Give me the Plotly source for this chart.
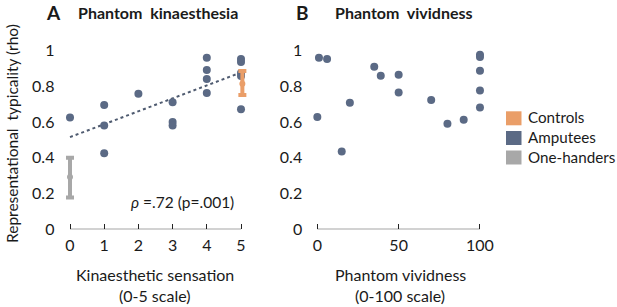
import plotly.graph_objects as go

# ---------------- data ----------------
kin_x = [0, 1, 1, 1, 2, 3, 3, 3, 4, 4, 4, 4, 5, 5, 5, 5, 5]
kin_y = [0.625, 0.695, 0.58, 0.425, 0.757, 0.71, 0.60, 0.58,
         0.958, 0.89, 0.84, 0.762, 0.952, 0.935, 0.873, 0.857, 0.67]

viv_x = [0, 1, 6, 15, 20, 35, 39, 50, 50, 70, 80, 90, 100, 100, 100, 100, 100]
viv_y = [0.627, 0.958, 0.952, 0.435, 0.707, 0.908, 0.858, 0.864, 0.764,
         0.722, 0.59, 0.612, 0.975, 0.962, 0.886, 0.775, 0.68]

trend_x = [0, 5]
trend_y = [0.515, 0.876]

ctrl_x = [5.04]
ctrl_mean = [0.813]
ctrl_plus = [0.071]
ctrl_minus = [0.063]

oneh_x = [0]
oneh_mean = [0.292]
oneh_plus = [0.108]
oneh_minus = [0.115]

y_ticks = [0, 0.2, 0.4, 0.6, 0.8, 1]
y_ticktext = ["0", "0.2", "0.4", "0.6", "0.8", "1"]
kin_ticks = [0, 1, 2, 3, 4, 5]
viv_ticks = [0, 50, 100]

legend_names = ["Controls", "Amputees", "One-handers"]

# ---------------- styling ----------------
C_ORANGE = "#EA9E68"
C_AMP = "#5B6A85"
C_GRAY = "#A8A8A8"
C_TEXT = "#1a1a1a"
FONT = "Lato"
legend_colors = [C_ORANGE, C_AMP, C_GRAY]

W, H = 617, 307
def px(x):
    return x / W
def py(y):
    return 1 - y / H

fig = go.Figure()

# Panel A
fig.add_trace(go.Scatter(x=trend_x, y=trend_y, mode="lines",
                         line=dict(color="#4F5B70", width=2, dash="dot"),
                         showlegend=False, xaxis="x", yaxis="y", hoverinfo="skip"))
fig.add_trace(go.Scatter(x=kin_x, y=kin_y, mode="markers", name="Amputees",
                         marker=dict(color=C_AMP, size=8),
                         showlegend=False, xaxis="x", yaxis="y"))
fig.add_trace(go.Scatter(x=ctrl_x, y=ctrl_mean, mode="markers", name="Controls",
                         marker=dict(color=C_ORANGE, size=6),
                         error_y=dict(type="data", array=ctrl_plus, arrayminus=ctrl_minus,
                                      color=C_ORANGE, thickness=4, width=4),
                         showlegend=False, xaxis="x", yaxis="y"))
fig.add_trace(go.Scatter(x=oneh_x, y=oneh_mean, mode="markers", name="One-handers",
                         marker=dict(color=C_GRAY, size=6),
                         error_y=dict(type="data", array=oneh_plus, arrayminus=oneh_minus,
                                      color=C_GRAY, thickness=4, width=4),
                         showlegend=False, xaxis="x", yaxis="y"))

# Panel B
fig.add_trace(go.Scatter(x=viv_x, y=viv_y, mode="markers", name="Amputees",
                         marker=dict(color=C_AMP, size=8),
                         showlegend=False, xaxis="x2", yaxis="y2"))

ydom = [py(229.3), py(229.3 - 1.05 * 179)]
axis_font = dict(family=FONT, size=16, color=C_TEXT)

common_x = dict(showgrid=False, zeroline=False, showline=False, ticks="inside",
                ticklen=5, tickwidth=1, tickcolor="#222", tickfont=axis_font,
                ticklabelstandoff=5, fixedrange=True)
common_y = dict(range=[0, 1.05], domain=ydom, showgrid=False, zeroline=False,
                showline=False, ticks="", tickvals=y_ticks, ticktext=y_ticktext,
                tickfont=axis_font, ticklabelstandoff=6, fixedrange=True)

fig.update_layout(
    width=W, height=H, autosize=False,
    margin=dict(l=0, r=0, t=0, b=0, pad=0, autoexpand=False),
    paper_bgcolor="white", plot_bgcolor="white",
    font=dict(family=FONT, color=C_TEXT),
    xaxis=dict(range=[-0.25, 5.25], domain=[px(61.45), px(249.55)],
               tickvals=kin_ticks, anchor="y", **common_x),
    yaxis=dict(anchor="x", **common_y),
    xaxis2=dict(range=[-5, 105], domain=[px(309.2), px(488.1)],
                tickvals=viv_ticks, anchor="y2", **common_x),
    yaxis2=dict(anchor="x2", **common_y),
    showlegend=False,
)

# baseline axis lines spanning the tick range
fig.add_shape(type="line", xref="x", yref="y", x0=kin_ticks[0], x1=kin_ticks[-1],
              y0=0, y1=0, line=dict(color="#222", width=1))
fig.add_shape(type="line", xref="x2", yref="y2", x0=viv_ticks[0], x1=viv_ticks[-1],
              y0=0, y1=0, line=dict(color="#222", width=1))

ann = []
# legend (swatches + labels)
leg_centers = [118.3, 138.0, 157.5]
for name, col, cy in zip(legend_names, legend_colors, leg_centers):
    fig.add_shape(type="rect", xref="paper", yref="paper",
                  x0=px(506), x1=px(521.5), y0=py(cy + 7), y1=py(cy - 7),
                  fillcolor=col, line=dict(width=0))
    ann.append(dict(text=name, x=px(527), y=py(cy - 1), xref="paper", yref="paper",
                    xanchor="left", yanchor="middle", showarrow=False, borderpad=0,
                    font=dict(family=FONT, size=15.2, color=C_TEXT)))

ann.append(dict(text="<b>A</b>", x=px(45), y=py(12), xref="paper", yref="paper",
                xanchor="left", yanchor="middle", showarrow=False, borderpad=0,
                font=dict(family=FONT, size=19, color=C_TEXT)))
ann.append(dict(text="<b>Phantom  kinaesthesia</b>", x=px(158), y=py(12), xref="paper", yref="paper",
                xanchor="center", yanchor="middle", showarrow=False, borderpad=0,
                font=dict(family=FONT, size=16, color=C_TEXT)))
ann.append(dict(text="<b>B</b>", x=px(295), y=py(12), xref="paper", yref="paper",
                xanchor="left", yanchor="middle", showarrow=False, borderpad=0,
                font=dict(family=FONT, size=19, color=C_TEXT)))
ann.append(dict(text="<b>Phantom  vividness</b>", x=px(404), y=py(12), xref="paper", yref="paper",
                xanchor="center", yanchor="middle", showarrow=False, borderpad=0,
                font=dict(family=FONT, size=16, color=C_TEXT)))
ann.append(dict(text="Representational  typicality (rho)", x=px(12), y=py(134),
                xref="paper", yref="paper", textangle=-90, showarrow=False,
                xanchor="center", yanchor="middle",
                font=dict(family=FONT, size=15.5, color=C_TEXT)))
ann.append(dict(text="Kinaesthetic sensation", x=px(155), y=py(274), xref="paper", yref="paper",
                showarrow=False, xanchor="center", yanchor="middle",
                font=dict(family=FONT, size=16, color=C_TEXT)))
ann.append(dict(text="(0-5 scale)", x=px(155), y=py(295), xref="paper", yref="paper",
                showarrow=False, xanchor="center", yanchor="middle",
                font=dict(family=FONT, size=16, color=C_TEXT)))
ann.append(dict(text="Phantom vividness", x=px(400), y=py(274), xref="paper", yref="paper",
                showarrow=False, xanchor="center", yanchor="middle",
                font=dict(family=FONT, size=16, color=C_TEXT)))
ann.append(dict(text="(0-100 scale)", x=px(400), y=py(295), xref="paper", yref="paper",
                showarrow=False, xanchor="center", yanchor="middle",
                font=dict(family=FONT, size=16, color=C_TEXT)))
ann.append(dict(text="<i>ρ</i> =.72 (p=.001)", x=3.3, y=0.153, xref="x", yref="y",
                showarrow=False, xanchor="center", yanchor="middle",
                font=dict(family=FONT, size=15.5, color=C_TEXT)))
fig.update_layout(annotations=ann)

# let the 617x307 figure fill the window exactly (no default page margin)
fig.write_html("out.html", config={"displayModeBar": False},
               post_script="document.body.style.margin='0';document.body.style.overflow='hidden';")
